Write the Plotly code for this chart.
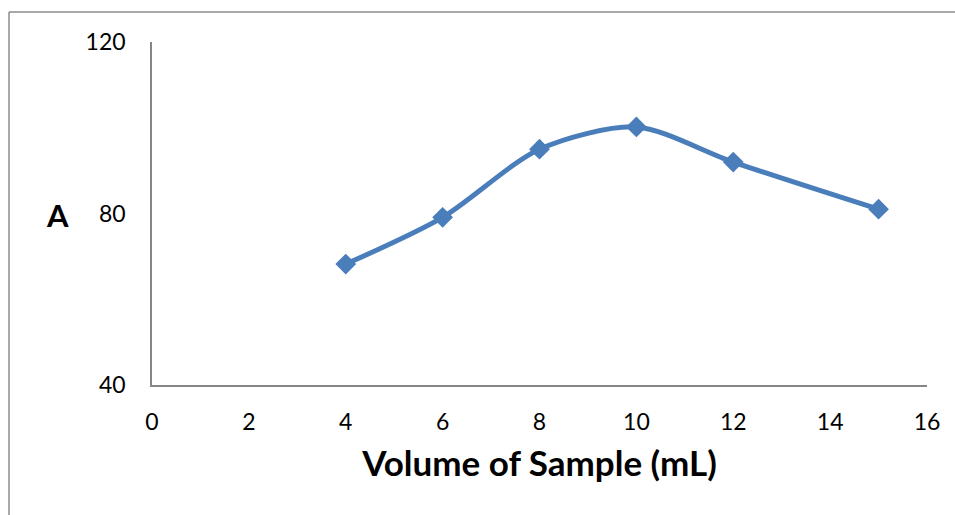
import plotly.graph_objects as go

volume = [4, 6, 8, 10, 12, 15]
absorbance = [68.2, 79.1, 95.0, 100.2, 92.0, 81.0]
x_ticks = [0, 2, 4, 6, 8, 10, 12, 14, 16]
y_ticks = [40, 80, 120]

W, H = 955, 515
L, R, T, B = 152, 28, 42, 130
pw, ph = W - L - R, H - T - B

fig = go.Figure()
fig.add_trace(go.Scatter(
    x=volume, y=absorbance, mode="lines+markers",
    line=dict(color="#4a7ebb", width=5, shape="spline", smoothing=0.8),
    marker=dict(symbol="diamond", size=16, color="#4a7ebb"),
    showlegend=False, cliponaxis=False,
))

font_family = "Lato, 'Open Sans', sans-serif"
fig.update_layout(
    width=W, height=H,
    margin=dict(l=L, r=R, t=T, b=B),
    paper_bgcolor="white", plot_bgcolor="white",
    font=dict(family=font_family, color="black"),
    xaxis=dict(
        range=[0, 16], tickvals=x_ticks, ticktext=[str(v) for v in x_ticks],
        showgrid=False, zeroline=False, showline=True, linecolor="#868686", linewidth=1.5,
        ticks="", tickfont=dict(size=23), ticklabelstandoff=16,
        title=dict(text="<b>Volume of Sample (mL)</b>", font=dict(size=35), standoff=17),
    ),
    yaxis=dict(
        range=[40, 120], tickvals=y_ticks, ticktext=[str(v) for v in y_ticks],
        showgrid=False, zeroline=False, showline=True, linecolor="#868686", linewidth=1.5,
        ticks="", tickfont=dict(size=23), ticklabelstandoff=20,
    ),
    annotations=[dict(
        text="<b>A</b>", x=(57 - L) / pw, y=1 - (215 - T) / ph, xref="paper", yref="paper",
        showarrow=False, font=dict(size=31), xanchor="center", yanchor="middle",
    )],
    shapes=[
        dict(type="line", xref="paper", yref="paper",
             x0=(9 - L) / pw, x1=(9 - L) / pw, y0=1 - (12 - T) / ph, y1=1 - (530 - T) / ph,
             line=dict(color="#8c8c8c", width=1.5)),
        dict(type="line", xref="paper", yref="paper",
             x0=(9 - L) / pw, x1=(970 - L) / pw, y0=1 - (12 - T) / ph, y1=1 - (12 - T) / ph,
             line=dict(color="#8c8c8c", width=1.5)),
    ],
)

fig.write_html("out.html")
